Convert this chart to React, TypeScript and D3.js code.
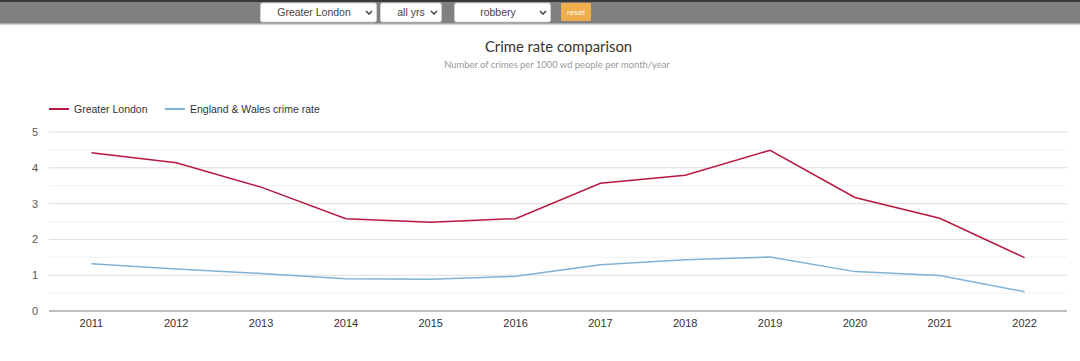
import React from "react";
import * as d3 from "d3";

const years = ["2011","2012","2013","2014","2015","2016","2017","2018","2019","2020","2021","2022"];
const londonRate = [4.42, 4.14, 3.46, 2.58, 2.48, 2.58, 3.57, 3.79, 4.49, 3.17, 2.59, 1.49];
const englandWalesRate = [1.32, 1.17, 1.05, 0.9, 0.89, 0.97, 1.29, 1.43, 1.51, 1.1, 0.99, 0.54];
const yTicks = [0, 1, 2, 3, 4, 5];
const yMinor = [0.5, 1.5, 2.5, 3.5, 4.5];
const seriesNames = ["Greater London", "England & Wales crime rate"];
const seriesColors = ["#b81840", "#7fb2d6"];

const W = 1080, H = 361;
const M = { left: 49, right: 13, top: 132, bottom: 50 };

export default function App() {
  React.useEffect(() => {
    document.body.style.margin = "0";
  }, []);
  const x = d3.scaleBand<string>().domain(years).range([M.left, W - M.right]);
  const y = d3.scaleLinear().domain([0, 5]).range([H - M.bottom, M.top]);
  const cx = (d: string) => (x(d) as number) + x.bandwidth() / 2;
  const line = d3.line<number>().x((_, i) => cx(years[i])).y((v) => y(v));
  const sans = "'Liberation Sans', Arial, sans-serif";
  const titleFont = "Lato, 'Open Sans', sans-serif";
  const chevron = (px: number, py: number) => `M${px - 3},${py - 1.5} L${px},${py + 1.5} L${px + 3},${py - 1.5}`;
  const selects = [
    { x0: 260, x1: 377, label: "Greater London", tx: 314, ch: 369 },
    { x0: 380, x1: 442, label: "all yrs", tx: 411, ch: 434 },
    { x0: 454, x1: 551, label: "robbery", tx: 498, ch: 543 },
  ];
  return (
    <svg width={W} height={H} style={{ position: "absolute", left: 0, top: 0, display: "block" }}>
      <rect x={0} y={0} width={W} height={H} fill="#fff" />
      {/* top bar */}
      <rect x={0} y={0} width={W} height={24} fill="#808080" />
      <rect x={0} y={0} width={W} height={2} fill="#3a3a3a" />
      <rect x={0} y={23.5} width={W} height={1.5} fill="#cfcfcf" />
      {selects.map((s) => (
        <g key={s.label}>
          <rect x={s.x0 + 0.5} y={3} width={s.x1 - s.x0 - 1} height={19} rx={2} fill="#fff" stroke="#d0d0d0" />
          <text x={s.tx} y={16} textAnchor="middle" fontFamily={sans} fontSize={10.5} fill="#444">{s.label}</text>
          <path d={chevron(s.ch, 12.5)} fill="none" stroke="#333" strokeWidth={1.3} />
        </g>
      ))}
      <rect x={561} y={3} width={30} height={18} rx={1} fill="#f0ad4e" />
      <text x={576} y={15} textAnchor="middle" fontFamily={sans} fontSize={8} fill="#fff">reset</text>

      {/* titles */}
      <text x={558.5} y={52} textAnchor="middle" fontFamily={titleFont} fontSize={14.8} fill="#333">Crime rate comparison</text>
      <text x={557} y={68} textAnchor="middle" fontFamily={titleFont} fontSize={9.4} fill="#999">Number of crimes per 1000 wd people per month/year</text>

      {/* legend */}
      {seriesNames.map((n, i) => {
        const lx = i === 0 ? 49 : 165;
        return (
          <g key={n}>
            <line x1={lx} x2={lx + 20} y1={109} y2={109} stroke={seriesColors[i]} strokeWidth={2} />
            <text x={lx + 25} y={113} fontFamily={sans} fontSize={10.5} fill="#333">{n}</text>
          </g>
        );
      })}

      {/* grid */}
      {yMinor.map((t) => (
        <line key={"m" + t} x1={M.left} x2={W - M.right} y1={y(t)} y2={y(t)} stroke="#f0f0f0" strokeWidth={1} />
      ))}
      {yTicks.filter((t) => t > 0).map((t) => (
        <line key={"g" + t} x1={M.left} x2={W - M.right} y1={y(t)} y2={y(t)} stroke="#dedede" strokeWidth={1} />
      ))}
      <line x1={M.left} x2={W - M.right} y1={y(0)} y2={y(0)} stroke="#bdbdbd" strokeWidth={2} />
      {yTicks.map((t) => (
        <text key={"t" + t} x={38} y={y(t) + 4} textAnchor="end" fontFamily={sans} fontSize={11} fill="#555">{t}</text>
      ))}
      {years.map((yr) => (
        <text key={yr} x={cx(yr)} y={327} textAnchor="middle" fontFamily={sans} fontSize={11} fill="#333">{yr}</text>
      ))}

      {/* lines */}
      <path d={line(englandWalesRate) as string} fill="none" stroke={seriesColors[1]} strokeWidth={1.5} />
      <path d={line(londonRate) as string} fill="none" stroke={seriesColors[0]} strokeWidth={1.5} />
    </svg>
  );
}
